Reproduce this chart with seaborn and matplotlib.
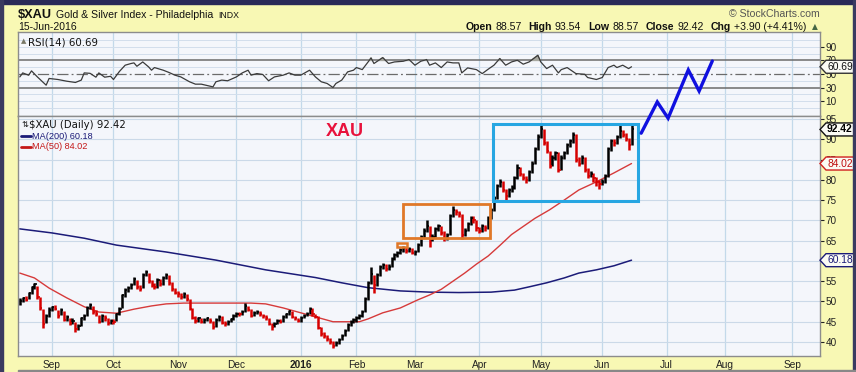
import numpy as np
import pandas as pd
import matplotlib
matplotlib.use("Agg")
import matplotlib.pyplot as plt
import seaborn as sns
from matplotlib.patches import Rectangle, Polygon
from matplotlib.lines import Line2D

# ---------------- data ----------------
close = [
    50.0, 50.8, 50.4, 52.0, 53.5, 54.2, 51.0, 48.5, 44.5, 46.5,
    48.0, 48.6, 48.2, 46.5, 47.8, 45.5, 46.2, 44.8, 45.3, 43.2,
    44.0, 45.8, 46.5, 48.5, 49.2, 47.5, 46.8, 45.0, 46.5, 45.8,
    44.8, 45.2, 45.0, 46.8, 48.2, 51.5, 52.8, 53.2, 54.0, 55.5,
    53.6, 53.0, 56.5, 57.2, 55.0, 54.0, 53.5, 55.3, 54.2, 55.8,
    56.5, 54.5, 53.0, 52.2, 51.8, 51.0, 51.8, 50.5, 48.2, 46.0,
    45.2, 45.8, 45.0, 45.5, 45.8, 45.2, 43.8, 45.5, 46.2, 44.8,
    44.5, 45.0, 45.6, 46.5, 47.0, 46.8, 47.5, 48.8, 48.0, 46.5,
    47.2, 47.5, 46.8, 46.5, 45.8, 44.5, 43.8, 44.5, 45.3, 45.0,
    46.2, 46.8, 47.6, 46.2, 45.8, 45.3, 46.0, 46.5, 47.0, 48.2,
    46.8, 46.2, 43.5, 42.0, 41.5, 40.8, 40.0, 39.0, 39.8, 40.5,
    41.5, 42.8, 44.2, 45.0, 45.4, 45.8, 46.3, 47.5, 50.5, 54.5,
    56.8, 54.0, 56.5, 58.5, 59.0, 58.0, 58.6, 60.5, 61.5, 62.0,
    62.8, 63.2, 62.5, 63.0, 62.0, 62.3, 64.0, 66.0, 67.5, 68.5,
    65.5, 66.0, 67.8, 68.5, 67.0, 65.5, 66.5, 71.0, 72.5, 72.0,
    71.5, 66.5, 67.5, 69.0, 70.5, 70.0, 68.0, 67.5, 68.5, 68.0,
    70.5, 72.5, 75.5, 78.5, 79.5, 77.5, 76.0, 77.5, 78.0, 80.5,
    83.0, 81.5, 80.5, 80.0, 82.0, 84.0, 87.5, 90.5, 92.5, 89.0,
    87.0, 83.5, 85.5, 86.5, 82.5, 85.5, 86.5, 88.5, 89.5, 91.0,
    85.0, 84.0, 85.5, 82.5, 81.0, 81.5, 80.5, 79.5, 79.0, 79.5,
    81.0, 87.5, 89.5, 89.0, 90.5, 92.0, 91.0, 90.0, 88.52, 92.42,
]
high = [
    50.9, 51.2, 51.3, 52.4, 53.9, 54.6, 53.8, 51.2, 48.2, 46.9,
    48.6, 49.0, 49.2, 48.0, 48.4, 47.6, 46.7, 46.0, 45.8, 45.0,
    44.5, 46.2, 47.0, 48.9, 49.6, 49.0, 47.8, 46.6, 47.0, 46.6,
    45.9, 45.7, 45.6, 47.2, 48.6, 51.9, 53.2, 53.8, 54.5, 56.0,
    55.2, 54.0, 56.9, 57.8, 57.0, 55.4, 54.5, 55.7, 55.5, 56.2,
    57.0, 56.6, 54.8, 53.4, 52.6, 52.0, 52.3, 51.9, 50.6, 48.3,
    46.3, 46.2, 46.0, 46.0, 46.2, 46.0, 45.3, 45.9, 46.6, 46.3,
    45.1, 45.4, 46.0, 46.9, 47.4, 47.3, 47.9, 49.6, 49.0, 48.1,
    47.6, 47.9, 47.6, 47.0, 46.6, 46.0, 44.8, 44.9, 45.7, 45.6,
    46.6, 47.2, 48.0, 47.7, 46.4, 46.0, 46.4, 46.9, 47.5, 48.7,
    48.3, 47.0, 46.3, 43.6, 42.4, 41.8, 41.0, 40.2, 40.2, 40.9,
    41.9, 43.2, 44.6, 45.4, 45.9, 46.3, 46.8, 48.0, 51.0, 55.0,
    58.5, 56.5, 57.0, 59.0, 59.5, 59.2, 59.2, 61.0, 61.9, 62.5,
    63.2, 63.7, 63.4, 63.5, 63.2, 62.8, 64.4, 66.5, 68.0, 70.0,
    68.6, 66.6, 68.3, 69.0, 68.7, 67.3, 67.0, 71.5, 73.5, 72.9,
    72.4, 71.6, 68.0, 69.5, 71.0, 71.0, 70.2, 68.4, 69.0, 68.9,
    71.0, 73.0, 76.0, 79.0, 80.3, 79.7, 77.8, 78.0, 78.6, 81.0,
    83.8, 83.2, 81.8, 80.9, 82.5, 84.6, 88.0, 91.2, 93.5, 92.6,
    89.5, 87.2, 86.0, 87.0, 86.8, 86.0, 87.0, 89.0, 90.0, 91.8,
    91.2, 85.6, 86.0, 85.7, 83.0, 82.2, 81.8, 80.8, 80.0, 80.2,
    81.5, 88.0, 90.0, 90.0, 91.0, 93.5, 92.4, 91.5, 90.4, 93.54,
]
low = [
    49.2, 49.8, 50.0, 50.5, 51.8, 53.0, 50.6, 48.0, 43.5, 44.6,
    46.2, 47.6, 47.8, 46.0, 46.6, 45.1, 45.2, 44.3, 44.5, 42.5,
    43.0, 44.0, 45.5, 46.4, 48.2, 47.0, 46.3, 44.6, 45.0, 45.3,
    44.3, 44.5, 44.4, 45.1, 46.6, 48.3, 51.2, 52.4, 53.0, 54.0,
    53.1, 52.6, 53.2, 56.2, 54.6, 53.6, 53.0, 53.4, 53.8, 54.0,
    55.5, 54.0, 52.6, 51.8, 51.2, 50.5, 50.9, 50.0, 47.8, 45.6,
    44.8, 45.0, 44.6, 44.8, 45.2, 44.8, 43.3, 43.8, 45.3, 44.4,
    44.0, 44.3, 44.9, 45.5, 46.2, 46.4, 46.7, 47.4, 47.6, 46.1,
    46.4, 46.9, 46.4, 46.0, 45.4, 44.1, 43.0, 43.6, 44.4, 44.6,
    44.9, 46.0, 46.7, 45.8, 45.4, 44.9, 45.0, 45.8, 46.3, 46.9,
    46.4, 45.8, 43.1, 41.6, 41.0, 40.3, 39.6, 38.6, 38.9, 39.6,
    40.4, 41.4, 42.7, 44.0, 44.6, 45.0, 45.6, 46.2, 47.4, 50.4,
    54.3, 52.0, 53.8, 56.3, 58.0, 57.6, 57.8, 58.4, 60.2, 61.0,
    61.8, 62.3, 62.0, 62.2, 61.6, 61.5, 62.2, 63.8, 65.7, 67.2,
    63.5, 64.8, 65.8, 67.4, 66.5, 64.9, 65.2, 66.3, 70.8, 71.4,
    70.8, 65.5, 66.2, 67.3, 68.8, 69.4, 67.5, 67.0, 67.2, 67.5,
    67.8, 70.3, 72.3, 75.3, 78.2, 77.0, 75.0, 75.8, 77.0, 77.8,
    80.3, 81.0, 80.0, 79.3, 79.8, 81.8, 83.8, 87.3, 90.2, 88.5,
    86.5, 83.0, 83.3, 85.0, 82.0, 82.3, 85.2, 86.3, 88.0, 89.2,
    84.5, 83.5, 83.8, 82.0, 80.5, 80.6, 79.5, 78.5, 77.8, 78.6,
    79.3, 80.8, 87.2, 88.4, 88.8, 90.3, 90.5, 89.5, 87.4, 88.57,
]

ma50_day = [0, 5, 10, 16, 22, 27, 33, 39, 45, 50, 56, 62, 67, 73, 79, 84, 90, 96,
            101, 107, 113, 116, 119, 124, 130, 136, 140, 144, 148, 152, 156, 160,
            164, 168, 172, 176, 181, 186, 191, 197, 203, 209]
ma50_val = [57.0, 55.8, 53.3, 50.9, 48.7, 47.4, 47.1, 48.1, 48.9, 49.4, 49.6, 49.6,
            49.6, 49.6, 49.6, 49.4, 48.4, 47.2, 46.2, 45.0, 45.0, 45.0, 45.7, 47.2,
            48.4, 50.4, 51.6, 53.0, 55.0, 57.0, 59.2, 61.2, 63.8, 66.5, 68.5, 70.5,
            72.6, 75.0, 77.5, 79.5, 81.7, 84.02]

ma200_day = [0, 11, 22, 33, 50, 67, 84, 101, 110, 119, 130, 140, 150, 161, 169, 174,
             180, 186, 191, 197, 203, 209]
ma200_val = [67.9, 66.9, 65.6, 63.9, 62.2, 60.2, 57.8, 55.9, 54.6, 53.4, 52.6, 52.3,
             52.2, 52.3, 52.8, 53.6, 54.6, 55.8, 57.0, 57.8, 58.8, 60.18]

rsi_day = [0, 1, 3, 4, 6, 9, 10, 13, 16, 19, 21, 22, 24, 26, 27, 29, 31, 32, 34, 36,
           38, 39, 40, 42, 44, 45, 46, 49, 51, 53, 55, 58, 60, 62, 66, 67, 69, 71, 74,
           76, 78, 79, 81, 83, 85, 87, 90, 92, 94, 96, 99, 101, 103, 105, 107, 108,
           110, 112, 114, 115, 117, 119, 120, 121, 124, 126, 128, 131, 133, 135, 137,
           139, 140, 142, 144, 146, 148, 150, 151, 153, 156, 158, 160, 162, 164, 166,
           168, 170, 172, 174, 177, 178, 180, 182, 184, 185, 187, 190, 193, 194, 197,
           199, 201, 203, 204, 206, 208, 209]
rsi_val = [45.7, 51.6, 48.2, 54.6, 45.7, 33.5, 43.4, 41.9, 39.4, 37.5, 41, 51.6, 51,
           45.3, 51.6, 45.3, 46.6, 41.9, 53.6, 63, 65.5, 66.4, 61.4, 67.8, 60.5, 55.6,
           59.5, 55.6, 52.2, 48.3, 45.7, 38.5, 35, 35, 31, 38.5, 41, 40, 45.7, 51.6,
           55.6, 48.3, 50.6, 49.3, 40, 45.7, 48.3, 51.6, 48.3, 48.3, 55.6, 45.7, 38.5,
           36, 30.1, 36, 41, 53.1, 55.6, 59.5, 56.5, 67.8, 73.7, 65.5, 74.2, 65.5, 67.8,
           68.8, 71.3, 63, 68.8, 71.3, 63, 66.4, 59.5, 67.8, 66.4, 66.4, 51.6, 59, 56.5,
           50.6, 57, 63, 72.8, 63, 67.8, 70.3, 64.5, 67.8, 77.6, 67.8, 58, 63, 51.6,
           56.5, 59.5, 50.6, 49.6, 44.8, 41.9, 44.8, 59.5, 63, 59.5, 63, 58, 60.69]

price_ticks = [40, 45, 50, 55, 60, 65, 70, 75, 80, 85, 90, 95]
rsi_ticks = [10, 30, 50, 70, 90]

# annotations drawn on the chart (trading-day index, price)
orange_box = (131.0, 65.7, 160.7, 74.0)
small_box = (128.9, 63.4, 132.3, 64.4)
blue_box = (161.7, 74.9, 211.3, 93.8)
proj_day = [212.3, 217.8, 221.5, 228.4, 232.1, 236.6]
proj_val = [91.5, 99.2, 95.2, 107.1, 101.9, 109.3]

holidays = ["2015-09-07", "2015-11-26", "2015-12-25", "2016-01-01", "2016-01-18",
            "2016-02-15", "2016-03-25", "2016-05-30", "2016-07-04", "2016-09-05"]

# ---------------- setup ----------------
sns.set_style("white")
plt.rcParams['font.family'] = ['Liberation Sans', 'DejaVu Sans']

W, H = 856, 372
BG = '#F8F8B4'
PANEL = '#F4F6FB'
GRID = '#C3D9EA'

def fx(x):
    return x / W

def fy(y):
    return 1 - y / H

fig = plt.figure(figsize=(W / 100, H / 100), dpi=100, facecolor=BG)
ax_r = fig.add_axes([fx(18), fy(116), (820 - 18) / W, (116 - 32) / H])
ax_p = fig.add_axes([fx(18), fy(356), (820 - 18) / W, (356 - 116) / H])

cal = pd.bdate_range("2015-08-17", "2016-09-30", freq="C", holidays=holidays)
mstart = [i for i in range(1, len(cal)) if cal[i].month != cal[i - 1].month]
mlabels = ["2016" if cal[i].month == 1 else cal[i].strftime("%b") for i in mstart]

XL = (-0.62, 273.4)
for ax in (ax_r, ax_p):
    ax.set_facecolor(PANEL)
    ax.set_xlim(*XL)
    for i in mstart:
        ax.axvline(i, color=GRID, lw=0.9, zorder=0)
    for s in ax.spines.values():
        s.set_color('#8c8c8c')
        s.set_linewidth(1.0)
    ax.yaxis.tick_right()
    ax.tick_params(axis='y', direction='out', length=3, width=0.8, pad=1,
                   labelsize=7.2, colors='#222222')

# ---------------- RSI panel ----------------
ax_r.set_ylim(-12, 112)
for v in range(0, 101, 10):
    if v not in (30, 50, 70):
        ax_r.axhline(v, color='#D2DEEC', lw=0.7, zorder=0)
ax_r.axhline(70, color='#6b6b6b', lw=1.1, zorder=1)
ax_r.axhline(30, color='#6b6b6b', lw=1.1, zorder=1)
ax_r.axhline(50, color='#6b6b6b', lw=0.9, dashes=[9, 2.5, 1.5, 2.5], zorder=1)
rd = np.array(rsi_day, float)
rv = np.array(rsi_val, float)
ax_r.fill_between(rd, rv, 70, where=rv > 70, interpolate=True, color='#A8A8A0', zorder=2)
sns.lineplot(x=rsi_day, y=rsi_val, ax=ax_r, color='#3a3a3a', linewidth=0.9,
             legend=False, zorder=3)
ax_r.set_yticks(rsi_ticks)
ax_r.set_xticks([])
ax_r.set_xlabel('')
ax_r.set_ylabel('')
ax_r.text(0.012, 0.93, "RSI(14) 60.69", transform=ax_r.transAxes, fontsize=7.4,
          family='DejaVu Sans', color='#111111', va='top', ha='left')
ax_r.text(0.004, 0.93, "\u25b2", transform=ax_r.transAxes, fontsize=5,
          family='DejaVu Sans', color='#777766', va='top', ha='left')

# ---------------- price panel ----------------
ax_p.set_ylim(36.55, 95.74)
for v in price_ticks:
    ax_p.axhline(v, color='#CBD9E8', lw=0.8, zorder=0)
ax_p.set_yticks(price_ticks)
# the "60" label sits entirely under the MA(200) value tag in the reference
ax_p.set_yticklabels(["" if v == 60 else str(v) for v in price_ticks])

sns.lineplot(x=ma200_day, y=ma200_val, ax=ax_p, color='#1B1B78', linewidth=1.1,
             legend=False, zorder=3)
sns.lineplot(x=ma50_day, y=ma50_val, ax=ax_p, color='#D63A3A', linewidth=1.0,
             legend=False, zorder=3)

n = len(close)
d = np.arange(n)
cols = ['#000000'] + ['#000000' if close[i] >= close[i - 1] else '#D60000'
                      for i in range(1, n)]
ax_p.vlines(d, low, high, colors=cols, lw=1.8, zorder=4)
ax_p.hlines(close, d, d + 0.75, colors=cols, lw=1.2, zorder=4)

for (x0, y0, x1, y1), c, lw in [(orange_box, '#E07828', 2.0), (small_box, '#E07828', 1.8),
                                 (blue_box, '#27A6E2', 2.2)]:
    ax_p.add_patch(Rectangle((x0, y0), x1 - x0, y1 - y0, fill=False, ec=c, lw=lw, zorder=5))

ax_p.plot(proj_day, proj_val, color='#1010E0', lw=2.4, clip_on=False, zorder=10,
          solid_joinstyle='miter')

ax_p.set_xticks(mstart)
ax_p.set_xticklabels(mlabels)
for lab in ax_p.get_xticklabels():
    if lab.get_text() == '2016':
        lab.set_fontweight('bold')
ax_p.tick_params(axis='x', direction='out', length=0, pad=3, labelsize=7.3,
                 colors='#222222')
ax_p.set_xlabel('')
ax_p.set_ylabel('')

ax_p.text(0.014, 0.985, "$XAU (Daily) 92.42", transform=ax_p.transAxes, fontsize=7.3,
          family='DejaVu Sans', color='#111111', va='top', ha='left')
ax_p.text(0.004, 0.985, "\u21c5", transform=ax_p.transAxes, fontsize=6,
          family='DejaVu Sans', color='#111111', va='top', ha='left')
ax_p.text(0.017, 0.935, "MA(200) 60.18", transform=ax_p.transAxes, fontsize=6.6,
          color='#1B1B78', va='top', ha='left')
ax_p.text(0.017, 0.89, "MA(50) 84.02", transform=ax_p.transAxes, fontsize=6.6,
          color='#C41818', va='top', ha='left')
ax_p.add_line(Line2D([0.004, 0.016], [0.917, 0.917], transform=ax_p.transAxes,
                     color='#1B1B78', lw=2))
ax_p.add_line(Line2D([0.004, 0.016], [0.872, 0.872], transform=ax_p.transAxes,
                     color='#C41818', lw=2))

ax_p.text(0.408, 0.935, "XAU", transform=ax_p.transAxes, fontsize=13, fontweight='bold',
          color='#E8123C', ha='center', va='center')

# ---------------- value tags on the right ----------------
fig.canvas.draw()

def tag(ax, value, text, ec, tc, bold=False):
    _, ydisp = ax.transData.transform((0, value))
    yc = H - ydisp
    pts = [(820, yc), (826, yc - 6.5), (855, yc - 6.5), (855, yc + 6.5), (826, yc + 6.5)]
    fig.add_artist(Polygon([(fx(a), fy(b)) for a, b in pts], closed=True,
                           transform=fig.transFigure, fc='#FBFBF4', ec=ec, lw=1.0,
                           zorder=20))
    fig.text(fx(827), fy(yc), text, ha='left', va='center', fontsize=7.4, color=tc,
             fontweight='bold' if bold else 'normal', zorder=21)

tag(ax_r, 60.69, "60.69", '#333333', '#111111')
tag(ax_p, 92.42, "92.42", '#111111', '#000000', bold=True)
tag(ax_p, 84.02, "84.02", '#D02020', '#C01010')
tag(ax_p, 60.18, "60.18", '#1B1B78', '#1B1B78')

# ---------------- header ----------------
fig.patches.append(Rectangle((0, fy(4)), 1, 4 / H, transform=fig.transFigure,
                             color='#2A2A58', zorder=30))
fig.patches.append(Rectangle((0, 0), 3 / W, 1, transform=fig.transFigure,
                             color='#3A3A60', zorder=30))
fig.patches.append(Rectangle((1 - 3 / W, 0), 3 / W, 1, transform=fig.transFigure,
                             color='#3A3A60', zorder=30))
fig.patches.append(Rectangle((fx(18), 0), 1, 2 / H, transform=fig.transFigure,
                             color='#888888', zorder=30))

renderer = fig.canvas.get_renderer()
t = fig.text(fx(18), fy(18), "$XAU", fontsize=9.2, fontweight='bold', color='#111111')
wpx = t.get_window_extent(renderer).width
t2 = fig.text(fx(18 + wpx + 4), fy(18), "Gold & Silver Index - Philadelphia",
              fontsize=7.6, color='#111111')
w2 = t2.get_window_extent(renderer).width
fig.text(fx(18 + wpx + 4 + w2 + 5), fy(18), "INDX", fontsize=6.3, color='#111111')
fig.text(fx(18), fy(30), "15-Jun-2016", fontsize=7.5, color='#111111')
fig.text(fx(820), fy(17), "\u00a9 StockCharts.com", fontsize=7.6, color='#555555',
         ha='right')

parts = [("Open", 'bold', 3), ("88.57", 'normal', 7), ("High", 'bold', 3),
         ("93.54", 'normal', 7), ("Low", 'bold', 3), ("88.57", 'normal', 7),
         ("Close", 'bold', 3), ("92.42", 'normal', 7), ("Chg", 'bold', 3),
         ("+3.90 (+4.41%)", 'normal', 4)]
x = 810
fig.text(fx(818), fy(29), "\u25b2", fontsize=5.5, color='#446644', ha='right',
         family='DejaVu Sans')
for s, w, gap in reversed(parts):
    x -= gap
    tt = fig.text(fx(x), fy(30), s, ha='right', fontsize=7.6, fontweight=w,
                  color='#111111')
    x -= tt.get_window_extent(renderer).width

fig.savefig("out.png", dpi=100, facecolor=BG)
